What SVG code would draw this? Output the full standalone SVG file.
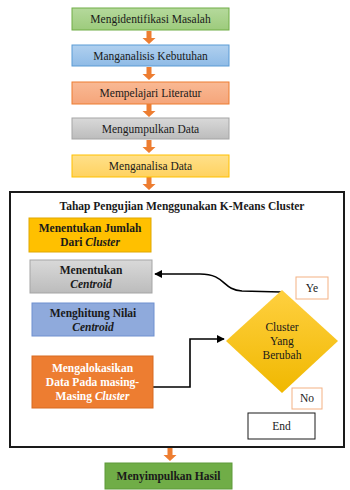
<svg xmlns="http://www.w3.org/2000/svg" width="350" height="490" viewBox="0 0 350 490" font-family="'Liberation Serif', 'DejaVu Serif', serif">
<style>
text{font-family:'Liberation Serif','DejaVu Serif',serif;fill:#1a1a1a;text-anchor:middle}
.t{font-size:11.5px}
.b{font-size:11.5px;font-weight:bold}
.w{fill:#ffffff}
.arr{fill:#ed7d31}
.ln{fill:none;stroke:#000;stroke-width:1.6}
</style>
<defs>
<linearGradient id="gGreen" x1="0" y1="0" x2="0" y2="1"><stop offset="0" stop-color="#b5d99c"/><stop offset="1" stop-color="#9dcb7c"/></linearGradient>
<linearGradient id="gBlue" x1="0" y1="0" x2="0" y2="1"><stop offset="0" stop-color="#b0d0ef"/><stop offset="1" stop-color="#8fbbe6"/></linearGradient>
<linearGradient id="gSalmon" x1="0" y1="0" x2="0" y2="1"><stop offset="0" stop-color="#f9b994"/><stop offset="1" stop-color="#f5a57a"/></linearGradient>
<linearGradient id="gGray" x1="0" y1="0" x2="0" y2="1"><stop offset="0" stop-color="#d9d9d9"/><stop offset="1" stop-color="#bcbcbc"/></linearGradient>
<linearGradient id="gYel" x1="0" y1="0" x2="0" y2="1"><stop offset="0" stop-color="#ffe08a"/><stop offset="1" stop-color="#ffd260"/></linearGradient>
<linearGradient id="gDia" x1="0" y1="0" x2="0" y2="1"><stop offset="0" stop-color="#ffd040"/><stop offset="1" stop-color="#f0b800"/></linearGradient>
<marker id="ah" viewBox="0 0 10 10" refX="9" refY="5" markerWidth="5" markerHeight="5" orient="auto"><path d="M0,0 L10,5 L0,10 z" fill="#000"/></marker>
<path id="dn" d="M-2.5,0 h5 v7 h4 l-6.5,6 l-6.5,-6 h4 z"/>
</defs>

<g id="frame"><rect x="10" y="192" width="334" height="255" fill="#fff" stroke="#1a1a1a" stroke-width="2"/>
<text class="b" x="182" y="210">Tahap Pengujian Menggunakan K-Means Cluster</text></g>

<g id="connectors">
<use href="#dn" class="arr" x="149" y="31"/>
<use href="#dn" class="arr" x="149" y="67"/>
<use href="#dn" class="arr" x="149" y="104"/>
<use href="#dn" class="arr" x="149" y="140"/>
<use href="#dn" class="arr" x="149" y="177"/>
<use href="#dn" class="arr" x="170" y="448"/>
<path class="ln" d="M281,292 L242,291 C222,290 226,274 200,274 L155,274" marker-end="url(#ah)"/>
<path class="ln" d="M153,387 H190 V339 H224" marker-end="url(#ah)"/>
</g>

<g id="n1"><rect x="72" y="8" width="157" height="22" fill="url(#gGreen)" stroke="#70ad47"/><text class="t" x="150.5" y="23">Mengidentifikasi Masalah</text></g>
<g id="n2"><rect x="72" y="45" width="157" height="21" fill="url(#gBlue)" stroke="#5b9bd5"/><text class="t" x="150.5" y="59.5">Manganalisis Kebutuhan</text></g>
<g id="n3"><rect x="72" y="82" width="157" height="22" fill="url(#gSalmon)" stroke="#ed7d31"/><text class="t" x="150.5" y="97">Mempelajari Literatur</text></g>
<g id="n4"><rect x="72" y="118" width="157" height="21" fill="url(#gGray)" stroke="#a5a5a5"/><text class="t" x="150.5" y="132.5">Mengumpulkan Data</text></g>
<g id="n5"><rect x="72" y="155" width="157" height="22" fill="url(#gYel)" stroke="#ffc000"/><text class="t" x="150.5" y="170">Menganalisa Data</text></g>

<g id="s1"><rect x="29" y="218" width="122" height="34" fill="#ffc000" stroke="#e0a800"/><text class="b" x="90" y="232">Menentukan Jumlah</text><text class="b" x="90" y="246">Dari <tspan font-style="italic">Cluster</tspan></text></g>
<g id="s2"><rect x="30" y="260" width="122" height="33" fill="url(#gGray)" stroke="#a5a5a5"/><text class="b" x="91" y="274">Menentukan</text><text class="b" x="91" y="288" font-style="italic">Centroid</text></g>
<g id="s3"><rect x="32" y="303" width="122" height="33" fill="#8faadc" stroke="#6f90d0"/><text class="b" x="93" y="317">Menghitung Nilai</text><text class="b" x="93" y="331" font-style="italic">Centroid</text></g>
<g id="s4"><rect x="32" y="356" width="121" height="52" fill="#ed7d31" stroke="#d86a20"/><text class="b w" x="92.5" y="372">Mengalokasikan</text><text class="b w" x="92.5" y="386">Data Pada masing-</text><text class="b w" x="92.5" y="400">Masing <tspan font-style="italic">Cluster</tspan></text></g>
<g id="dia"><path d="M282,290 L338,341 L282,393 L226,341 Z" fill="url(#gDia)"/><text class="t" x="282" y="331">Cluster</text><text class="t" x="282" y="345">Yang</text><text class="t" x="282" y="359">Berubah</text></g>
<g id="ye"><rect x="296" y="277" width="32" height="22" fill="#fff" stroke="#f4b183"/><text class="t" x="312" y="292">Ye</text></g>
<g id="no"><rect x="292" y="388" width="30" height="21" fill="#fff" stroke="#f4b183"/><text class="t" x="307" y="402">No</text></g>
<g id="end"><rect x="248" y="413" width="67" height="26" fill="#fff" stroke="#1a1a1a"/><text class="t" x="281.5" y="430">End</text></g>

<g id="n6"><rect x="105" y="463" width="127" height="26" fill="#70ad47" stroke="#5e9a3a"/><text class="b" x="168.5" y="480">Menyimpulkan Hasil</text></g>
</svg>
